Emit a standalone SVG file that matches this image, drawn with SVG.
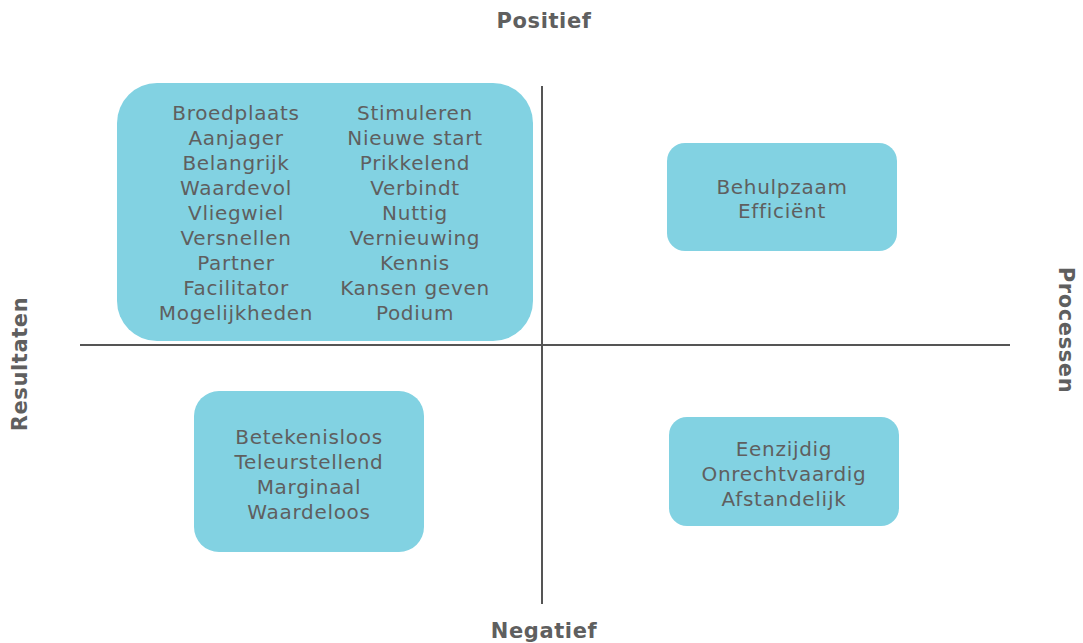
<svg xmlns="http://www.w3.org/2000/svg" width="1083" height="643" viewBox="0 0 1083 643">
<style>
.box{fill:#82d2e2;}
.t{font-family:"DejaVu Sans",Verdana,sans-serif;font-size:20px;letter-spacing:0.7px;fill:#5f5f5f;text-anchor:middle;}
.lab{font-family:"DejaVu Sans",Verdana,sans-serif;font-size:21px;letter-spacing:0.6px;font-weight:bold;fill:#5f5f5f;text-anchor:middle;}
.axis{stroke:#555;stroke-width:2;fill:none;}
</style>
<rect width="1083" height="643" fill="#fff"/>
<g id="axes">
<line class="axis" x1="80" y1="345" x2="1010" y2="345"/>
<line class="axis" x1="542" y1="86" x2="542" y2="604"/>
</g>
<g id="labels">
<text class="lab" x="544" y="28">Positief</text>
<text class="lab" x="544" y="638">Negatief</text>
<text class="lab" transform="translate(27,364) rotate(-90)">Resultaten</text>
<text class="lab" transform="translate(1059,330) rotate(90)">Processen</text>
</g>
<g id="box-positief-resultaten">
<rect class="box" x="117" y="83" width="416" height="258" rx="40"/>
<text class="t" x="236" y="120">Broedplaats</text>
<text class="t" x="236" y="145">Aanjager</text>
<text class="t" x="236" y="170">Belangrijk</text>
<text class="t" x="236" y="195">Waardevol</text>
<text class="t" x="236" y="220">Vliegwiel</text>
<text class="t" x="236" y="245">Versnellen</text>
<text class="t" x="236" y="270">Partner</text>
<text class="t" x="236" y="295">Facilitator</text>
<text class="t" x="236" y="320">Mogelijkheden</text>
<text class="t" x="415" y="120">Stimuleren</text>
<text class="t" x="415" y="145">Nieuwe start</text>
<text class="t" x="415" y="170">Prikkelend</text>
<text class="t" x="415" y="195">Verbindt</text>
<text class="t" x="415" y="220">Nuttig</text>
<text class="t" x="415" y="245">Vernieuwing</text>
<text class="t" x="415" y="270">Kennis</text>
<text class="t" x="415" y="295">Kansen geven</text>
<text class="t" x="415" y="320">Podium</text>
</g>
<g id="box-positief-processen">
<rect class="box" x="667" y="143" width="230" height="108" rx="18"/>
<text class="t" x="782" y="194">Behulpzaam</text>
<text class="t" x="782" y="218">Efficiënt</text>
</g>
<g id="box-negatief-resultaten">
<rect class="box" x="194" y="391" width="230" height="161" rx="25"/>
<text class="t" x="309" y="444">Betekenisloos</text>
<text class="t" x="309" y="469">Teleurstellend</text>
<text class="t" x="309" y="494">Marginaal</text>
<text class="t" x="309" y="519">Waardeloos</text>
</g>
<g id="box-negatief-processen">
<rect class="box" x="669" y="417" width="230" height="109" rx="18"/>
<text class="t" x="784" y="456">Eenzijdig</text>
<text class="t" x="784" y="481">Onrechtvaardig</text>
<text class="t" x="784" y="506">Afstandelijk</text>
</g>
</svg>
